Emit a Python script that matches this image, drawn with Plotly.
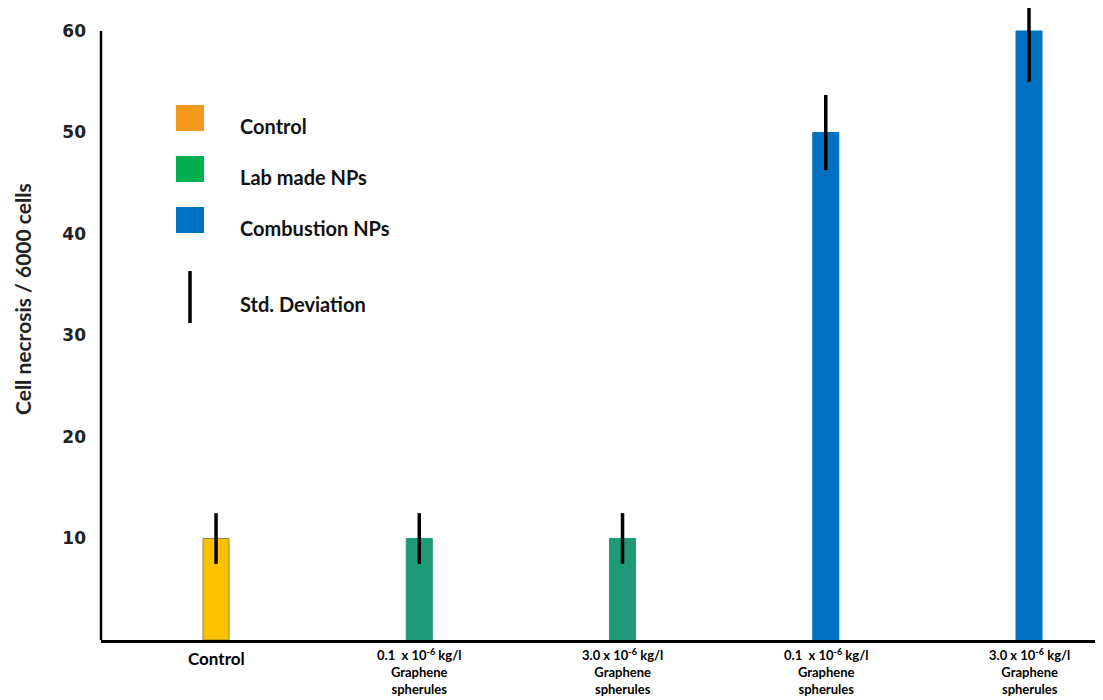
import plotly.graph_objects as go

# ---- data ----
categories = ["Control", "Lab 0.1", "Lab 3.0", "Comb 0.1", "Comb 3.0"]
x_labels = [
    "<b>Control</b>",
    "<b>0.1  x 10<sup>-6</sup> kg/l<br>Graphene<br>spherules</b>",
    "<b>3.0 x 10<sup>-6</sup> kg/l<br>Graphene<br>spherules</b>",
    "<b>0.1  x 10<sup>-6</sup> kg/l<br>Graphene<br>spherules</b>",
    "<b>3.0 x 10<sup>-6</sup> kg/l<br>Graphene<br>spherules</b>",
]
groups = ["Control", "Lab made NPs", "Lab made NPs", "Combustion NPs", "Combustion NPs"]
necrosis = [10, 10, 10, 50, 60]
std_dev = [2.5, 2.5, 2.5, 3.7, 5.0]
y_ticks = [10, 20, 30, 40, 50, 60]
legend_items = ["Control", "Lab made NPs", "Combustion NPs"]

# ---- styles ----
bar_colors = {"Control": "#FFC000", "Lab made NPs": "#1E9A78", "Combustion NPs": "#0070C0"}
bar_lines = {"Control": "#8C8C3A", "Lab made NPs": "#1E9A78", "Combustion NPs": "#0070C0"}
legend_colors = {"Control": "#F39A1E", "Lab made NPs": "#00B050", "Combustion NPs": "#0070C0"}

# page body has an 8px margin; compensate so the chart lands on the window's pixels
OFF = 8
W, H = 1103 - OFF, 700 - OFF
L, B, T = 101 - OFF, 60, 0
plot_w = W - L
plot_h = H - B - T           # page rows OFF .. 640
px_per_unit = 609 / 60.0
y_max = plot_h / px_per_unit

xpos = list(range(len(categories)))

fig = go.Figure()
fig.add_trace(go.Bar(
    x=xpos, y=necrosis, width=0.128,
    marker=dict(color=[bar_colors[g] for g in groups],
                line=dict(color=[bar_lines[g] for g in groups], width=1)),
    error_y=dict(type="data", array=std_dev, visible=True, color="black",
                 thickness=3.5, width=0),
    cliponaxis=False,
    showlegend=False, hoverinfo="skip",
))

fig.update_layout(
    width=W, height=H,
    margin=dict(l=L, r=0, t=T, b=B, autoexpand=False),
    plot_bgcolor="white", paper_bgcolor="white",
    xaxis=dict(range=[-0.566, 4.364], showticklabels=False, ticks="",
               showgrid=False, zeroline=False, showline=True,
               linecolor="black", linewidth=3, automargin=False),
    yaxis=dict(range=[0, y_max], tickvals=y_ticks,
               ticktext=[f"<b>{v}</b>" for v in y_ticks],
               tickfont=dict(family="DejaVu Sans", size=17, color="#222"),
               showgrid=False, zeroline=False, showline=False, ticks="",
               ticklabelstandoff=14, automargin=False),
    font=dict(family="Lato", color="black"),
)

# y axis line (0 to 60)
fig.add_shape(type="line", xref="paper", yref="y", x0=0, x1=0, y0=0, y1=y_ticks[-1],
              line=dict(color="black", width=2.5))


def px_to_paper_x(px):
    # px given in window pixels
    return (px - OFF - L) / plot_w


def px_to_paper_y(py):
    return (H - B - (py - OFF)) / plot_h


# x labels
for i, lab in enumerate(x_labels):
    if i == 0:
        fig.add_annotation(x=i, xref="x", y=px_to_paper_y(658), yref="paper", text=lab,
                           showarrow=False, yanchor="middle",
                           font=dict(family="Lato", size=17, color="black"))
    else:
        fig.add_annotation(x=i, xref="x", y=px_to_paper_y(644), yref="paper", text=lab,
                           showarrow=False, yanchor="top",
                           font=dict(family="Lato", size=13, color="black"))

# y title
fig.add_annotation(text="<b>Cell necrosis / 6000 cells</b>", xref="paper", yref="paper",
                   x=px_to_paper_x(22), y=px_to_paper_y(299), textangle=-90,
                   xanchor="center", yanchor="middle",
                   showarrow=False, font=dict(family="Lato", size=21, color="#222"))

# custom legend
legend_y = [118, 169, 220]
for name, cy in zip(legend_items, legend_y):
    fig.add_shape(type="rect", xref="paper", yref="paper",
                  x0=px_to_paper_x(176), x1=px_to_paper_x(204),
                  y0=px_to_paper_y(cy + 13), y1=px_to_paper_y(cy - 13),
                  fillcolor=legend_colors[name], line=dict(width=0))
    fig.add_annotation(text=f"<b>{name}</b>", xref="paper", yref="paper",
                       x=px_to_paper_x(238), y=px_to_paper_y(cy + 8), xanchor="left",
                       yanchor="middle",
                       showarrow=False, font=dict(family="Lato", size=20, color="#111"))

fig.add_shape(type="line", xref="paper", yref="paper",
              x0=px_to_paper_x(190), x1=px_to_paper_x(190),
              y0=px_to_paper_y(323), y1=px_to_paper_y(271),
              line=dict(color="black", width=3.5))
fig.add_annotation(text="<b>Std. Deviation</b>", xref="paper", yref="paper",
                   x=px_to_paper_x(238), y=px_to_paper_y(304), xanchor="left",
                   yanchor="middle",
                   showarrow=False, font=dict(family="Lato", size=20, color="#111"))

fig.write_html("out.html")
